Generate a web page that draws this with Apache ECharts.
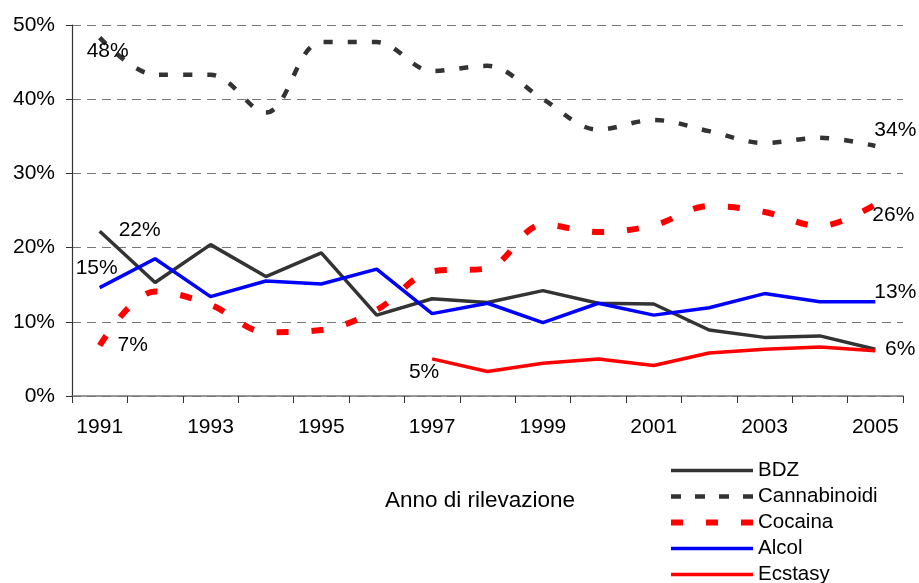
<!DOCTYPE html>
<html>
<head>
<meta charset="utf-8">
<script src="https://cdn.jsdelivr.net/npm/echarts@6/dist/echarts.min.js"></script>
<style>
  html, body { margin: 0; padding: 0; background: #fff; }
  #chart { width: 919px; height: 583px; }
</style>
</head>
<body>
<div id="chart"></div>
<script>
const years = ['1991', '1992', '1993', '1994', '1995', '1996', '1997', '1998',
  '1999', '2000', '2001', '2002', '2003', '2004', '2005'];

const bdz = [22.2, 15.3, 20.4, 16.1, 19.3, 10.9, 13.1, 12.6, 14.2, 12.5, 12.4, 8.9, 7.9, 8.1, 6.3];
const cannabinoidi = [48.3, 43.3, 43.3, 38.2, 47.7, 47.7, 43.8, 44.5, 40.0, 35.9, 37.2, 35.7, 34.1, 34.8, 33.7];
const cocaina = [6.8, 14.1, 12.3, 8.6, 8.9, 11.6, 16.8, 17.2, 23.1, 22.1, 23.0, 25.6, 24.8, 22.9, 25.8];
const alcol = [14.6, 18.5, 13.4, 15.5, 15.1, 17.1, 11.1, 12.5, 9.9, 12.5, 10.9, 11.9, 13.8, 12.7, 12.7];
const ecstasy = [null, null, null, null, null, null, 5.0, 3.3, 4.4, 5.0, 4.1, 5.8, 6.3, 6.6, 6.1];

const yTicks = [0, 10, 20, 30, 40, 50];
const xTitle = 'Anno di rilevazione';

const FONT = 'Liberation Sans, Arial, sans-serif';

// label for a point, placed by offset from the point
function pointLabel(values, idx, offset) {
  return {
    coord: [years[idx], values[idx]],
    value: values[idx],
    label: { offset: offset }
  };
}

function labelMarks(items) {
  return {
    symbol: 'circle',
    symbolSize: 0,
    silent: true,
    animation: false,
    label: {
      show: true,
      position: 'inside',
      color: '#000',
      fontFamily: FONT,
      fontSize: 21,
      formatter: (p) => Math.round(p.value) + '%'
    },
    data: items
  };
}

const chart = echarts.init(document.getElementById('chart'));

chart.setOption({
  animation: false,
  backgroundColor: '#fff',
  textStyle: { fontFamily: FONT },
  grid: { left: 72, right: 16, top: 25, bottom: 187 },
  legend: {
    orient: 'vertical',
    left: 668,
    top: 460,
    height: 160,
    padding: 0,
    itemWidth: 82,
    itemHeight: 14,
    itemGap: 5,
    itemStyle: { opacity: 0 },
    lineStyle: { width: 'inherit' },
    textStyle: { color: '#000', fontSize: 20.5, lineHeight: 20, fontFamily: FONT },
    data: [
      'BDZ',
      { name: 'Cannabinoidi', lineStyle: { type: [10, 14] } },
      { name: 'Cocaina', lineStyle: { type: [12, 23] } },
      'Alcol',
      'Ecstasy'
    ]
  },
  xAxis: {
    type: 'category',
    data: years,
    boundaryGap: true,
    name: xTitle,
    nameLocation: 'middle',
    nameGap: 93,
    nameTextStyle: { color: '#000', fontSize: 22.5, fontFamily: FONT, padding: [0, 15, 0, 0] },
    axisLine: { lineStyle: { color: '#777', width: 1.5 } },
    axisTick: { show: true, interval: 0, length: 7, lineStyle: { color: '#333' } },
    axisLabel: { interval: 1, color: '#000', fontSize: 21, margin: 21, fontFamily: FONT }
  },
  yAxis: {
    type: 'value',
    min: yTicks[0],
    max: yTicks[yTicks.length - 1],
    interval: 10,
    axisLine: { show: true, lineStyle: { color: '#333', width: 1.2 } },
    axisTick: { show: true, length: 6, lineStyle: { color: '#333' } },
    axisLabel: { color: '#000', fontSize: 21, margin: 17, fontFamily: FONT, formatter: '{value}%' },
    splitLine: { show: true, lineStyle: { color: '#777', type: [9, 6], width: 1.2 } }
  },
  series: [
    {
      name: 'BDZ',
      type: 'line',
      data: bdz,
      symbol: 'none',
      color: '#333333',
      lineStyle: { color: '#333333', width: 3.5 },
      markPoint: labelMarks([pointLabel(bdz, 0, [40, -1]), pointLabel(bdz, 14, [25, 0])])
    },
    {
      name: 'Cannabinoidi',
      type: 'line',
      data: cannabinoidi,
      symbol: 'none',
      smooth: 0.35,
      color: '#333333',
      lineStyle: { color: '#333333', width: 4.5, type: [9, 15] },
      markPoint: labelMarks([pointLabel(cannabinoidi, 0, [8, 14]), pointLabel(cannabinoidi, 14, [20, -16])])
    },
    {
      name: 'Cocaina',
      type: 'line',
      data: cocaina,
      symbol: 'none',
      smooth: 0.35,
      color: '#ff0000',
      lineStyle: { color: '#ff0000', width: 6, type: [12, 23] },
      markPoint: labelMarks([pointLabel(cocaina, 0, [33, 0]), pointLabel(cocaina, 14, [18, 11])])
    },
    {
      name: 'Alcol',
      type: 'line',
      data: alcol,
      symbol: 'none',
      color: '#0000ff',
      lineStyle: { color: '#0000ff', width: 3.5 },
      markPoint: labelMarks([pointLabel(alcol, 0, [-3, -19]), pointLabel(alcol, 14, [20, -10])])
    },
    {
      name: 'Ecstasy',
      type: 'line',
      data: ecstasy,
      symbol: 'none',
      color: '#ff0000',
      lineStyle: { color: '#ff0000', width: 3.5 },
      markPoint: labelMarks([pointLabel(ecstasy, 6, [-8, 13])])
    }
  ]
});
</script>
</body>
</html>
